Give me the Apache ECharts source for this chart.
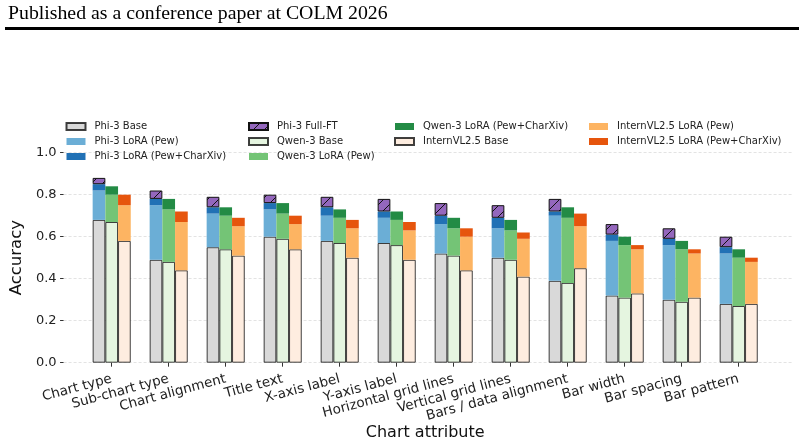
<!doctype html>
<html>
	<head>
		<meta charset="utf-8">
		<title>Chart attribute accuracy</title>
		<script src="https://cdn.jsdelivr.net/npm/echarts@6/dist/echarts.min.js"></script>
		<style>
			html, body { margin: 0; padding: 0; background: #fff; }
			#chart { width: 804px; height: 442px; }
		</style>
	</head>
	<body>
		<div id="chart"></div>
		<script type="text/javascript">
			// 类别
			var categories = ['Chart type', 'Sub-chart type', 'Chart alignment', 'Title text', 'X-axis label', 'Y-axis label',
				'Horizontal grid lines', 'Vertical grid lines', 'Bars / data alignment', 'Bar width', 'Bar spacing', 'Bar pattern'];
			// Phi-3
			var phiBase   = [0.68, 0.49, 0.55, 0.60, 0.58, 0.57, 0.52, 0.50, 0.39, 0.32, 0.30, 0.28];
			var phiPew    = [0.82, 0.75, 0.71, 0.73, 0.70, 0.69, 0.66, 0.64, 0.70, 0.58, 0.56, 0.52];
			var phiPewCx  = [0.85, 0.78, 0.74, 0.76, 0.74, 0.72, 0.70, 0.69, 0.72, 0.61, 0.59, 0.55];
			var phiFull   = [0.88, 0.82, 0.79, 0.80, 0.79, 0.78, 0.76, 0.75, 0.78, 0.66, 0.64, 0.60];
			// Qwen-3
			var qwenBase  = [0.67, 0.48, 0.54, 0.59, 0.57, 0.56, 0.51, 0.49, 0.38, 0.31, 0.29, 0.27];
			var qwenPew   = [0.80, 0.73, 0.70, 0.71, 0.69, 0.68, 0.64, 0.63, 0.69, 0.56, 0.54, 0.50];
			var qwenPewCx = [0.84, 0.78, 0.74, 0.76, 0.73, 0.72, 0.69, 0.68, 0.74, 0.60, 0.58, 0.54];
			// InternVL2.5
			var internBase  = [0.58, 0.44, 0.51, 0.54, 0.50, 0.49, 0.44, 0.41, 0.45, 0.33, 0.31, 0.28];
			var internPew   = [0.75, 0.67, 0.65, 0.66, 0.64, 0.63, 0.60, 0.59, 0.65, 0.54, 0.52, 0.48];
			var internPewCx = [0.80, 0.72, 0.69, 0.70, 0.68, 0.67, 0.64, 0.62, 0.71, 0.56, 0.54, 0.50];
			var yTicks = [0.0, 0.2, 0.4, 0.6, 0.8, 1.0];

			// 堆叠增量
			function diff(top, bottom) {
				return top.map(function(v, i) { return Math.round((v - bottom[i]) * 1000) / 1000; });
			}

			// 斜线填充
			var hatch = document.createElement('canvas');
			hatch.width = 11;
			hatch.height = 11;
			var hctx = hatch.getContext('2d');
			hctx.fillStyle = '#9467bd';
			hctx.fillRect(0, 0, 11, 11);
			hctx.strokeStyle = '#111';
			hctx.lineWidth = 1;
			hctx.beginPath();
			hctx.moveTo(-1, 12); hctx.lineTo(12, -1);
			hctx.stroke();

			var edge = 'rgba(0,0,0,0.75)';
			function bar(name, stack, data, color, border) {
				return {
					name: name,
					type: 'bar',
					stack: stack,
					xAxisIndex: 1,
					yAxisIndex: 1,
					barWidth: 12.7,
					barGap: '0%',
					data: data,
					itemStyle: {
						color: color,
						borderColor: border || color,
						borderWidth: border ? 1 : 0
					}
				};
			}

			var series = [
				bar('Phi-3 Base', 'phi', phiBase, '#d9d9d9', edge),
				bar('Phi-3 LoRA (Pew)', 'phi', diff(phiPew, phiBase), '#6baed6'),
				bar('Phi-3 LoRA (Pew+CharXiv)', 'phi', diff(phiPewCx, phiPew), '#2171b5'),
				bar('Phi-3 Full-FT', 'phi', diff(phiFull, phiPewCx), { image: hatch, repeat: 'repeat' }, '#111'),
				bar('Qwen-3 Base', 'qwen', qwenBase, '#e5f5e0', edge),
				bar('Qwen-3 LoRA (Pew)', 'qwen', diff(qwenPew, qwenBase), '#74c476'),
				bar('Qwen-3 LoRA (Pew+CharXiv)', 'qwen', diff(qwenPewCx, qwenPew), '#238b45'),
				bar('InternVL2.5 Base', 'intern', internBase, '#feede0', edge),
				bar('InternVL2.5 LoRA (Pew)', 'intern', diff(internPew, internBase), '#fdb462'),
				bar('InternVL2.5 LoRA (Pew+CharXiv)', 'intern', diff(internPewCx, internPew), '#e6550d')
			];

			var legendCols = [
				{ left: 65.5, data: ['Phi-3 Base', 'Phi-3 LoRA (Pew)', 'Phi-3 LoRA (Pew+CharXiv)'] },
				{ left: 248, data: ['Phi-3 Full-FT', 'Qwen-3 Base', 'Qwen-3 LoRA (Pew)'] },
				{ left: 394, data: ['Qwen-3 LoRA (Pew+CharXiv)', 'InternVL2.5 Base'] },
				{ left: 589, data: ['InternVL2.5 LoRA (Pew)', 'InternVL2.5 LoRA (Pew+CharXiv)'] }
			];
			var legends = legendCols.map(function(c) {
				return {
					orient: 'vertical',
					left: c.left,
					top: 120.5,
					padding: 0,
					icon: 'rect',
					itemWidth: 19,
					itemHeight: 7,
					itemGap: 3,
					selectedMode: false,
					data: c.data,
					textStyle: {
						fontFamily: 'DejaVu Sans',
						fontSize: 10,
						color: '#222',
						lineHeight: 12,
						padding: [0, 0, 0, 4]
					}
				};
			});

			var chart = echarts.init(document.getElementById('chart'), null, { renderer: 'canvas' });
			chart.setOption({
				animation: false,
				backgroundColor: '#fff',
				textStyle: { fontFamily: 'DejaVu Sans' },
				legend: legends,
				graphic: [{
					type: 'text',
					left: 8,
					top: 3.5,
					style: {
						text: 'Published as a conference paper at COLM 2026',
						font: '19.8px "Liberation Serif"',
						fill: '#000'
					}
				}, {
					type: 'rect',
					left: 5,
					top: 27,
					shape: { width: 794, height: 3 },
					style: { fill: '#000' }
				}],
				grid: [
					{ left: 59.5, right: 12, top: 152.7, bottom: 79.3 },
					{ left: 83.2, right: 36.8, top: 152.7, bottom: 79.3 }
				],
				xAxis: [{
					type: 'category',
					gridIndex: 0,
					data: categories,
					show: false
				}, {
					type: 'category',
					gridIndex: 1,
					data: categories,
					name: 'Chart attribute',
					nameLocation: 'middle',
					nameGap: 55,
					nameTextStyle: { fontSize: 16, color: '#111', verticalAlign: 'top' },
					axisLine: { show: false },
					axisTick: { show: true, alignWithLabel: true, length: 4, lineStyle: { color: '#333' } },
					axisLabel: { rotate: 15, fontSize: 13.5, color: '#222', margin: 16, interval: 0 },
					splitLine: { show: false }
				}],
				yAxis: [{
					type: 'value',
					gridIndex: 0,
					min: 0,
					max: 1,
					interval: 0.2,
					name: 'Accuracy',
					nameLocation: 'middle',
					nameGap: 29,
					nameTextStyle: { fontSize: 16.5, color: '#111' },
					axisLine: { show: false },
					axisTick: { show: true, length: 3.5, lineStyle: { color: '#333' } },
					axisLabel: {
						fontSize: 13,
						color: '#222',
						margin: 7,
						formatter: function(v) { return v.toFixed(1); }
					},
					splitLine: { show: true, lineStyle: { color: '#dcdcdc', width: 0.8, type: [3, 2] } }
				}, {
					type: 'value',
					gridIndex: 1,
					min: 0,
					max: 1,
					show: false
				}],
				series: series
			});
		</script>
	</body>
</html>
